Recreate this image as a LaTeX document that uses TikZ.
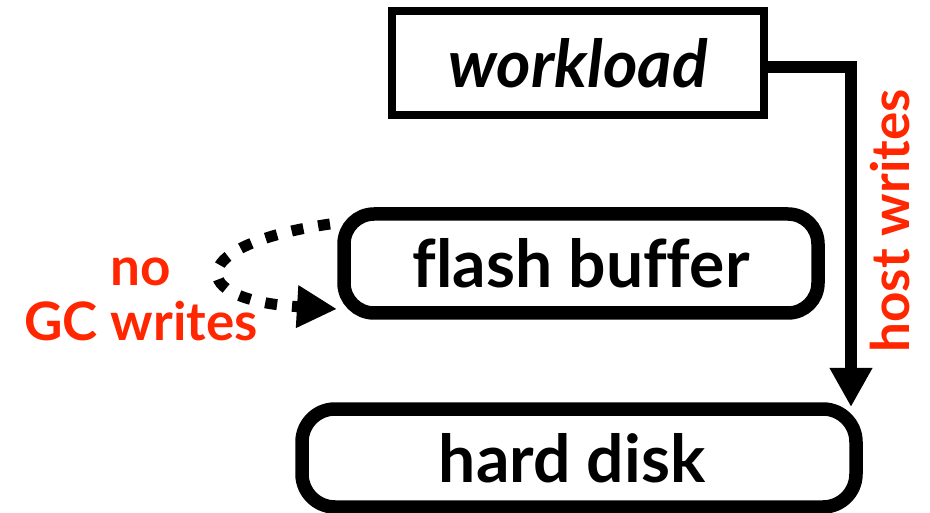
\documentclass[tikz,border=0pt]{standalone}
\usepackage{fontspec}
\setmainfont{Lato}[Ligatures=CommonOff]
\usetikzlibrary{arrows.meta}
\definecolor{labelred}{RGB}{255,38,0}
\begin{document}
\begin{tikzpicture}[x=1pt,y=-1pt,
  box/.style={draw=black, line width=8pt, minimum width=372pt, minimum height=104pt,
    inner sep=0pt, outer sep=0pt, font=\fontsize{66}{70}\selectfont\bfseries\itshape},
  store/.style={draw=black, line width=13.5pt, rounded corners=30pt, inner sep=0pt,
    outer sep=0pt, font=\fontsize{66}{70}\selectfont\bfseries},
  flow/.style={line width=12pt, -{Triangle[length=39pt,width=40pt]}},
  gcflow/.style={line width=11pt, dash pattern=on 12pt off 15pt,
    -{Triangle[length=40pt,width=40pt]}},
  lbl/.style={text=labelred, font=\fontsize{53}{55}\selectfont\bfseries, inner sep=0pt}]

\useasboundingbox (0,0) rectangle (930,513);

% boxes
\node[box] (wl) at (578,63) {workload};
\node[store, minimum width=474pt, minimum height=99pt] (fb) at (581,263.5) {flash buffer};
\node[store, rounded corners=33pt, minimum width=554pt, minimum height=98pt] (hd) at (579,458) {hard disk\hspace*{14pt}};

% host writes go straight to the disk
\draw[flow] ([yshift=-4.5pt]wl.east) -| ([xshift=-5pt,yshift=2pt]hd.north east);
\node[lbl, rotate=90] (hw) at (890.5,221) {host writes};

% no garbage-collection traffic inside the flash buffer
\draw[gcflow] ([xshift=-14pt,yshift=-10pt]fb.north west)
  .. controls +(-145,21) and +(-152,-9) .. ([xshift=-7pt,yshift=4pt]fb.south west);
\node[lbl, align=center] (gc) at (141,299) {no\\GC writes};
\end{tikzpicture}
\end{document}
